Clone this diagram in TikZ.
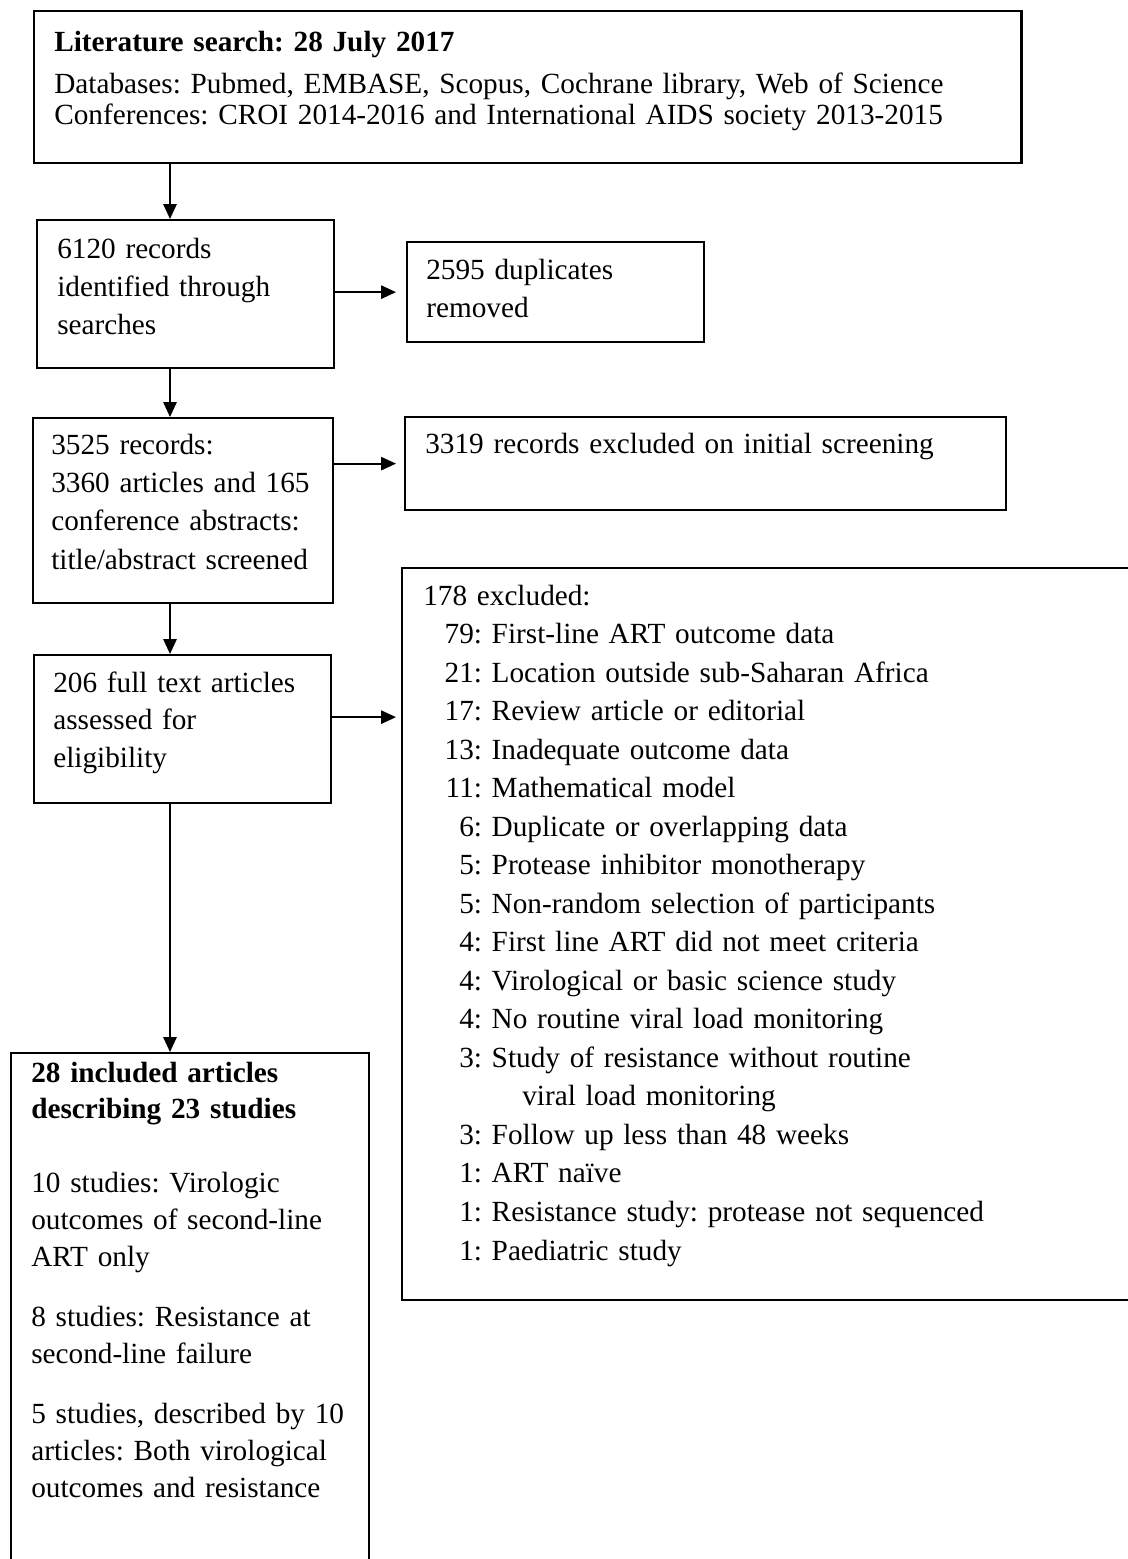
\documentclass[tikz,border=0pt]{standalone}
\usepackage{fontspec}
\setmainfont{Liberation Serif}
\usetikzlibrary{arrows.meta}
\frenchspacing
\newcommand{\exclrow}[2]{\makebox[1.4675cm][r]{#1:}\ #2}
\begin{document}
\begin{tikzpicture}[x=0.025cm,y=-0.025cm,
  box/.style={draw,line width=1.6pt,inner sep=0pt,anchor=north west},
  txt/.style={inner sep=0pt,anchor=base west,align=left,text width=18cm,
    font=\fontsize{20.8pt}{27.3pt}\selectfont},
  arr/.style={line width=1.3pt,-{Triangle[length=0.37cm,width=0.33cm]}}]
\useasboundingbox (0,0) rectangle (1128,1559);
\coordinate (axis) at (170,0);
% boxes
\node [box,minimum width=24.675cm,minimum height=3.8cm] (search) at (33,10) {};
\node [box,minimum width=7.425cm,minimum height=3.7cm] (ident) at (36,219) {};
\node [box,minimum width=7.425cm,minimum height=2.5cm] (dupl) at (406,241) {};
\node [box,minimum width=7.5cm,minimum height=4.625cm] (screen) at (32,417) {};
\node [box,minimum width=15.025cm,minimum height=2.325cm] (initexcl) at (404,416) {};
\node [box,minimum width=18.5cm,minimum height=18.3cm] (fullexcl) at (401,567) {};
\node [box,minimum width=7.425cm,minimum height=3.7cm] (fulltext) at (33,654) {};
\node [box,minimum width=8.95cm,minimum height=13cm] (incl) at (10,1052) {};
% texts
\node [txt,text width=24cm,font=\fontsize{20.8pt}{22.4pt}\selectfont] (searchtxt) at (54,51)
  {\textbf{Literature search: 28 July 2017}\\[0.27cm]
   Databases: Pubmed, EMBASE, Scopus, Cochrane library, Web of Science\\
   Conferences: CROI 2014-2016 and International AIDS society 2013-2015};
\node [txt] (identtxt) at (57,258) {6120 records\\identified through\\searches};
\node [txt] (dupltxt) at (426,279) {2595 duplicates\\removed};
\node [txt] (screentxt) at (51,454)
  {3525 records:\\3360 articles and 165\\conference abstracts:\\title/abstract screened};
\node [txt] (initexcltxt) at (425,453) {3319 records excluded on initial screening};
\node [txt,font=\fontsize{20.8pt}{27.4pt}\selectfont] (fullexcltxt) at (423,605)
  {178 excluded:\\
   \exclrow{79}{First-line ART outcome data}\\
   \exclrow{21}{Location outside sub-Saharan Africa}\\
   \exclrow{17}{Review article or editorial}\\
   \exclrow{13}{Inadequate outcome data}\\
   \exclrow{11}{Mathematical model}\\
   \exclrow{6}{Duplicate or overlapping data}\\
   \exclrow{5}{Protease inhibitor monotherapy}\\
   \exclrow{5}{Non-random selection of participants}\\
   \exclrow{4}{First line ART did not meet criteria}\\
   \exclrow{4}{Virological or basic science study}\\
   \exclrow{4}{No routine viral load monitoring}\\
   \exclrow{3}{Study of resistance without routine}\\
   \hspace*{2.475cm}viral load monitoring\\
   \exclrow{3}{Follow up less than 48 weeks}\\
   \exclrow{1}{ART na\"ive}\\
   \exclrow{1}{Resistance study: protease not sequenced}\\
   \exclrow{1}{Paediatric study}};
\node [txt,font=\fontsize{20.8pt}{26.7pt}\selectfont] (fulltexttxt) at (53,692)
  {206 full text articles\\assessed for\\eligibility};
\node [txt,font=\fontsize{20.8pt}{26.3pt}\selectfont] (incltxt) at (31,1082)
  {\textbf{28 included articles}\\\textbf{describing 23 studies}\\[0.925cm]
   10 studies: Virologic\\outcomes of second-line\\ART only\\[0.575cm]
   8 studies: Resistance at\\second-line failure\\[0.575cm]
   5 studies, described by 10\\articles: Both virological\\outcomes and resistance};
% connectors
\draw [arr] (search.south -| axis) -- (ident.north -| axis);
\draw [arr] (ident.south -| axis) -- (screen.north -| axis);
\draw [arr] (screen.south -| axis) -- (fulltext.north -| axis);
\draw [arr] (fulltext.south -| axis) -- (incl.north -| axis);
\draw [arr,shorten >=0.25cm] (ident.east |- dupl) -- (dupl.west);
\draw [arr,shorten >=0.2cm] (screen.east |- initexcl) -- (initexcl.west);
\draw [arr,shorten >=0.125cm] ([yshift=0.3cm]fulltext.east) -- ([yshift=0.3cm]fulltext.east -| fullexcl.west);
\end{tikzpicture}
\end{document}
